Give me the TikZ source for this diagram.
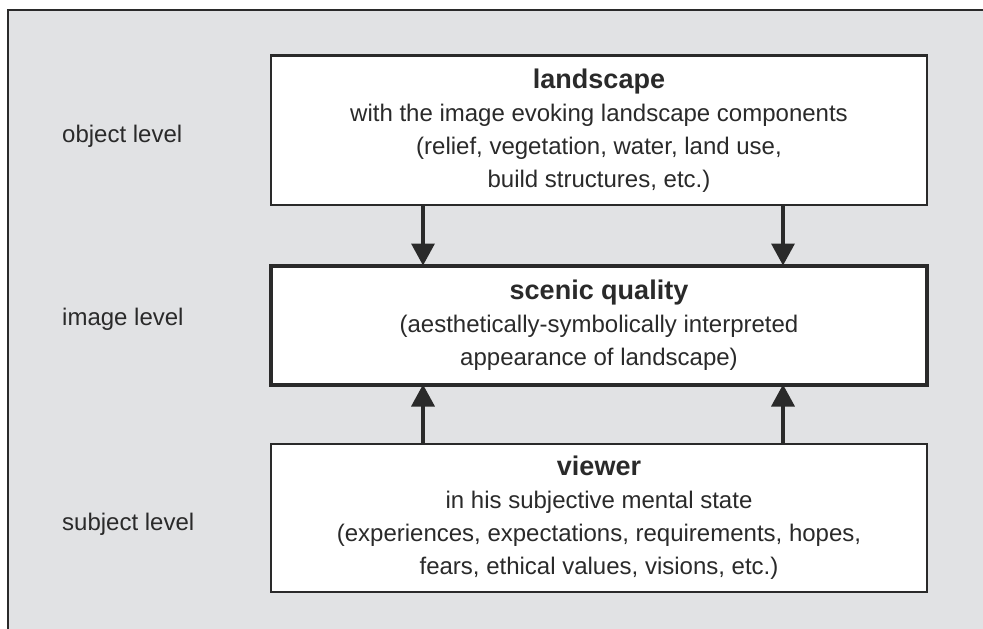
\documentclass[tikz,border=0pt]{standalone}
\usepackage{fontspec}
\setmainfont{Liberation Sans}
\usetikzlibrary{arrows.meta}
\definecolor{bggray}{HTML}{E1E2E4}
\definecolor{ink}{HTML}{2A2A2A}
\begin{document}
\begin{tikzpicture}[x=1pt,y=-1pt,
  box/.style={draw=ink,fill=white,line width=2.5pt,minimum width=656pt,outer sep=0pt,
    text=ink,align=center,font=\fontsize{24}{33}\selectfont,inner sep=0pt},
  lvl/.style={anchor=base west,text=ink,font=\fontsize{24}{29}\selectfont,inner sep=0pt},
  arr/.style={draw=ink,line width=3.5pt,-{Triangle[width=23pt,length=22pt]}},
  ttl/.style={}]
\useasboundingbox (0,0) rectangle (983,629);
\fill[white] (0,0) rectangle (983,629);
\fill[bggray] (8,10) rectangle (990,640);
\draw[ink,line width=1.5pt] (8,640) -- (8,10) -- (990,10);

\node[box,minimum height=149.5pt] (b1) at (599,130.25)
  {{\bfseries\fontsize{27}{33}\selectfont landscape}\\
   with the image evoking landscape components\\
   (relief, vegetation, water, land use,\\
   build structures, etc.)};
\node[box,line width=4pt,minimum height=119pt] (b2) at (599,325)
  {{\bfseries\fontsize{27}{33}\selectfont scenic quality}\\
   (aesthetically-symbolically interpreted\\
   appearance of landscape)};
\node[box,minimum height=148pt] (b3) at (599,518)
  {{\bfseries\fontsize{27}{33}\selectfont viewer}\\
   in his subjective mental state\\
   (experiences, expectations, requirements, hopes,\\
   fears, ethical values, visions, etc.)};

\node[lvl] (l1) at (62,142.7) {object level};
\node[lvl] (l2) at (62,325) {image level};
\node[lvl] (l3) at (62,530.7) {subject level};

\draw[arr] ([xshift=-176pt]b1.south) -- ([xshift=-176pt]b2.north);
\draw[arr] ([xshift=184pt]b1.south) -- ([xshift=184pt]b2.north);
\draw[arr] ([xshift=-176pt]b3.north) -- ([xshift=-176pt]b2.south);
\draw[arr] ([xshift=184pt]b3.north) -- ([xshift=184pt]b2.south);
\end{tikzpicture}
\end{document}
